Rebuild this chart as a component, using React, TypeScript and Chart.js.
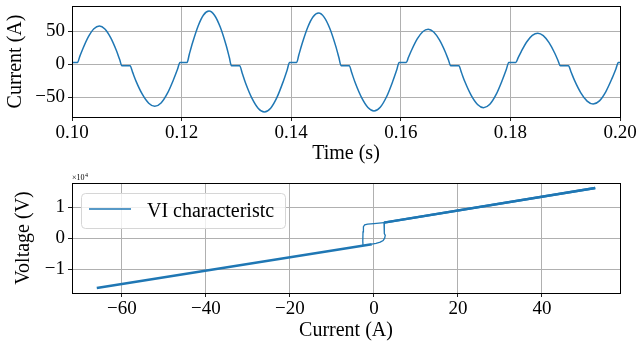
import React, { useEffect, useRef } from 'react';
import { Chart, registerables } from 'chart.js';

Chart.register(...registerables);

const FONT = "'Liberation Serif', 'DejaVu Serif', serif";
const LINE_COLOR = '#1f77b4';

// ---- Top panel: current waveform (time in s, current in A) ----
const time = [
  0.1000, 0.1010, 0.1014, 0.1020, 0.1030, 0.1040, 0.1050, 0.1060, 0.10705, 0.1081, 0.1087, 0.1091,
  0.1106, 0.11105, 0.1117, 0.11285, 0.1140, 0.1151, 0.11625, 0.1174, 0.11855, 0.11925, 0.1197,
  0.1210, 0.1214, 0.1220, 0.1230, 0.1240, 0.1250, 0.1260, 0.12705, 0.1281, 0.1287, 0.1291,
  0.1306, 0.13105, 0.1317, 0.13285, 0.1340, 0.1351, 0.13625, 0.1374, 0.13855, 0.13925, 0.1397,
  0.1410, 0.1414, 0.1420, 0.1430, 0.1440, 0.1450, 0.1460, 0.14705, 0.1481, 0.1487, 0.1491,
  0.1506, 0.15105, 0.1517, 0.15285, 0.1540, 0.1551, 0.15625, 0.1574, 0.15855, 0.15925, 0.1597,
  0.1610, 0.1614, 0.1620, 0.1630, 0.1640, 0.1650, 0.1660, 0.16705, 0.1681, 0.1687, 0.1691,
  0.1706, 0.17105, 0.1717, 0.17285, 0.1740, 0.1751, 0.17625, 0.1774, 0.17855, 0.17925, 0.1797,
  0.1810, 0.1814, 0.1820, 0.1830, 0.1840, 0.1850, 0.1860, 0.18705, 0.1881, 0.1887, 0.1891,
  0.1906, 0.19105, 0.1917, 0.19285, 0.1940, 0.1951, 0.19625, 0.1974, 0.19855, 0.19925, 0.1997, 0.2000,
];
const current = [
  2.5, 2.5, 11.2, 23.8, 41.7, 53.8, 58, 53.4, 40.3, 20.7, 6.9, -2.5,
  -2.5, -12.1, -26.1, -46.0, -59.3, -64, -58.9, -44.5, -23.0, -7.9, 2.5,
  2.5, 14.7, 32.4, 57.6, 74.6, 80.5, 74.2, 56.2, 29.3, 10.4, -2.5,
  -2.5, -13.4, -29.3, -52.0, -67.2, -72.5, -66.8, -50.5, -26.2, -9.2, 2.5,
  2.5, 14.2, 31.2, 55.5, 71.8, 77.5, 71.4, 54.1, 28.1, 10.0, -2.5,
  -2.5, -13.2, -28.7, -50.9, -65.8, -71, -65.4, -49.5, -25.7, -9.0, 2.5,
  2.5, 10.4, 21.8, 38.2, 49.2, 53, 48.8, 36.7, 18.8, 6.2, -2.5,
  -2.5, -12.4, -26.8, -47.4, -61.2, -66, -60.8, -46.0, -23.7, -8.2, 2.5,
  2.5, 9.4, 19.5, 34.0, 43.6, 47, 43.2, 32.5, 16.5, 5.2, -2.5,
  -2.5, -11.5, -24.7, -43.5, -56.1, -60.5, -55.7, -42.0, -21.6, -7.3, 2.5, 2.5,
];
const timeRange = [0.1, 0.2];
const currentRange = [-80.2, 88.2];
const timeStep = 0.02;
const currentStep = 50;

// ---- Bottom panel: VI characteristic (current in A, voltage in V) ----
const viCurrent = [
  52.7, 2.4, 2.45, 2.5, 2.7, 2.55, 2.2, 1.5, 0.5, -0.5, -66,
  -2.6, -2.65, -2.6, -2.5, -2.2, -1.5, 0.0, 2.4, 52.7,
];
const viVoltage = [
  16200, 5000, 3000, 1500, 900, 0, -800, -1300, -1650, -1950, -16100,
  -2400, -1000, 2000, 3700, 4300, 4550, 4700, 5000, 16200,
];
const viCurrentRange = [-71.9, 58.6];
const viVoltageRange = [-17700, 17800];
const viCurrentStep = 20;
const viVoltageTicks = [-10000, 0, 10000];
const legendLabel = 'VI characteristc';

const fmtSigned = (v: number) => (v < 0 ? '\u2212' : '') + String(Math.abs(Math.round(v * 1000) / 1000));

const framePlugin = {
  id: 'frame',
  afterDraw(chart: any) {
    const { ctx, chartArea: a } = chart;
    const l = Math.round(a.left) + 0.5;
    const r = Math.round(a.right) + 0.5;
    const t = Math.round(a.top) + 0.5;
    const b = Math.round(a.bottom) + 0.5;
    ctx.save();
    ctx.strokeStyle = '#000';
    ctx.lineWidth = 1;
    ctx.strokeRect(l, t, r - l, b - t);
    ctx.restore();
  },
};

const gridOpts = {
  color: '#b0b0b0',
  lineWidth: 1,
  drawTicks: true,
  tickLength: 4,
  tickColor: '#222',
  tickWidth: 1,
};

const tickFont = { family: FONT, size: 19, lineHeight: 1.2 };
const titleFont = { family: FONT, size: 20, lineHeight: 1 };

function topConfig(): any {
  return {
    type: 'scatter',
    data: {
      datasets: [
        {
          data: time.map((t, i) => ({ x: t, y: current[i] })),
          showLine: true,
          borderColor: LINE_COLOR,
          borderWidth: 1.5,
          pointRadius: 0,
          cubicInterpolationMode: 'monotone',
        },
      ],
    },
    options: {
      animation: false,
      responsive: false,
      maintainAspectRatio: false,
      events: [],
      layout: { padding: { left: 0, top: 6, right: 18, bottom: 0 } },
      plugins: { legend: { display: false }, tooltip: { enabled: false } },
      scales: {
        x: {
          type: 'linear',
          min: timeRange[0],
          max: timeRange[1],
          border: { display: false },
          grid: gridOpts,
          ticks: {
            stepSize: timeStep,
            includeBounds: false,
            padding: 1,
            color: '#000',
            font: tickFont,
            maxRotation: 0,
            autoSkip: false,
            callback: (v: number) => v.toFixed(2),
          },
          title: { display: true, text: 'Time (s)', color: '#000', font: titleFont, padding: { top: 0, bottom: 1 } },
          afterFit: (s: any) => {
            s.height = 48;
            s.paddingLeft = 0;
            s.paddingRight = 0;
          },
        },
        y: {
          type: 'linear',
          min: currentRange[0],
          max: currentRange[1],
          border: { display: false },
          grid: gridOpts,
          ticks: {
            stepSize: currentStep,
            includeBounds: false,
            padding: 3,
            color: '#000',
            font: tickFont,
            callback: (v: number) => fmtSigned(v),
          },
          title: { display: true, text: 'Current (A)', color: '#000', font: titleFont, padding: { top: 5.5, bottom: 0 } },
          afterFit: (s: any) => {
            s.width = 72;
            s.paddingTop = 0;
            s.paddingBottom = 0;
          },
        },
      },
    },
    plugins: [framePlugin],
  };
}

const bottomExtras = {
  id: 'bottomExtras',
  afterDraw(chart: any) {
    const { ctx, chartArea: a } = chart;
    ctx.save();
    // offset text x10^4
    ctx.fillStyle = '#000';
    ctx.textBaseline = 'alphabetic';
    ctx.textAlign = 'left';
    ctx.font = `8px ${FONT}`;
    const base = '\u00d710';
    ctx.fillText(base, a.left, 15);
    const w = ctx.measureText(base).width;
    ctx.font = `6px ${FONT}`;
    ctx.fillText('4', a.left + w + 0.5, 11.5);

    // legend
    const bx = a.left + 9.5;
    const by = a.top + 10.5;
    const bw = 204;
    const bh = 35;
    const r = 4;
    ctx.beginPath();
    ctx.moveTo(bx + r, by);
    ctx.lineTo(bx + bw - r, by);
    ctx.quadraticCurveTo(bx + bw, by, bx + bw, by + r);
    ctx.lineTo(bx + bw, by + bh - r);
    ctx.quadraticCurveTo(bx + bw, by + bh, bx + bw - r, by + bh);
    ctx.lineTo(bx + r, by + bh);
    ctx.quadraticCurveTo(bx, by + bh, bx, by + bh - r);
    ctx.lineTo(bx, by + r);
    ctx.quadraticCurveTo(bx, by, bx + r, by);
    ctx.closePath();
    ctx.fillStyle = 'rgba(255,255,255,0.8)';
    ctx.fill();
    ctx.strokeStyle = '#d6d6d6';
    ctx.lineWidth = 1;
    ctx.stroke();

    ctx.beginPath();
    ctx.strokeStyle = LINE_COLOR;
    ctx.lineWidth = 1.5;
    ctx.moveTo(bx + 7.5, by + 15.5);
    ctx.lineTo(bx + 49.5, by + 15.5);
    ctx.stroke();

    ctx.fillStyle = '#000';
    ctx.font = `20px ${FONT}`;
    ctx.fillText(legendLabel, bx + 65.5, by + 23);
    ctx.restore();
  },
};

function bottomConfig(): any {
  return {
    type: 'scatter',
    data: {
      datasets: [
        {
          label: legendLabel,
          data: viCurrent.map((c, i) => ({ x: c, y: viVoltage[i] })),
          showLine: true,
          borderColor: LINE_COLOR,
          borderWidth: 1.5,
          pointRadius: 0,
          tension: 0,
          segment: {
            borderWidth: (ctx: any) => (Math.abs(ctx.p0.parsed.x - ctx.p1.parsed.x) > 10 ? 2.4 : 1.3),
          },
        },
      ],
    },
    options: {
      animation: false,
      responsive: false,
      maintainAspectRatio: false,
      events: [],
      layout: { padding: { left: 0, top: 18, right: 18, bottom: 0 } },
      plugins: { legend: { display: false }, tooltip: { enabled: false } },
      scales: {
        x: {
          type: 'linear',
          min: viCurrentRange[0],
          max: viCurrentRange[1],
          border: { display: false },
          grid: gridOpts,
          ticks: {
            stepSize: viCurrentStep,
            includeBounds: false,
            padding: 1,
            color: '#000',
            font: tickFont,
            maxRotation: 0,
            autoSkip: false,
            callback: (v: number) => fmtSigned(v),
          },
          title: { display: true, text: 'Current (A)', color: '#000', font: titleFont, padding: { top: 0, bottom: 2.5 } },
          afterFit: (s: any) => {
            s.height = 50;
            s.paddingLeft = 0;
            s.paddingRight = 0;
          },
        },
        y: {
          type: 'linear',
          min: viVoltageRange[0],
          max: viVoltageRange[1],
          border: { display: false },
          grid: gridOpts,
          afterBuildTicks: (s: any) => {
            s.ticks = viVoltageTicks.map((value) => ({ value }));
          },
          ticks: {
            padding: 3,
            color: '#000',
            font: tickFont,
            autoSkip: false,
            callback: (v: number) => fmtSigned(v / 10000),
          },
          title: { display: true, text: 'Voltage (V)', color: '#000', font: titleFont, padding: { top: 14, bottom: 0 } },
          afterFit: (s: any) => {
            s.width = 72;
            s.paddingTop = 0;
            s.paddingBottom = 0;
          },
        },
      },
    },
    plugins: [framePlugin, bottomExtras],
  };
}

export default function App() {
  const topRef = useRef<HTMLCanvasElement>(null);
  const botRef = useRef<HTMLCanvasElement>(null);
  useEffect(() => {
    const c1 = new Chart(topRef.current as HTMLCanvasElement, topConfig());
    const c2 = new Chart(botRef.current as HTMLCanvasElement, bottomConfig());
    return () => {
      c1.destroy();
      c2.destroy();
    };
  }, []);
  return (
    <div style={{ position: 'absolute', left: 0, top: 0, width: 638, height: 343, background: '#fff' }}>
      <canvas
        ref={topRef}
        width={638}
        height={165}
        style={{ position: 'absolute', left: 0, top: 0, width: 638, height: 165 }}
      />
      <canvas
        ref={botRef}
        width={638}
        height={178}
        style={{ position: 'absolute', left: 0, top: 165, width: 638, height: 178 }}
      />
    </div>
  );
}
